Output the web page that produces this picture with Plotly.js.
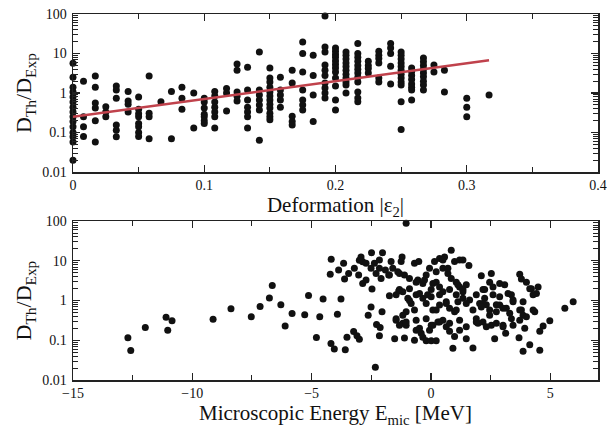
<!DOCTYPE html>
<html>
<head>
<meta charset="utf-8">
<script src="https://cdn.plot.ly/plotly-3.0.1.min.js"></script>
<style>html,body{margin:0;padding:0;background:#fff;}#chart{width:607px;height:428px;}</style>
</head>
<body>
<div id="chart"></div>
<script>
// Top panel: deformation |eps2| columns and the D_Th/D_Exp values read in each column
const deformationColumns = [0, 0.008, 0.017, 0.025, 0.033, 0.042, 0.05, 0.058, 0.067, 0.075, 0.083, 0.092, 0.1, 0.108, 0.117, 0.125, 0.133, 0.142, 0.15, 0.158, 0.167, 0.175, 0.183, 0.192, 0.2, 0.208, 0.217, 0.225, 0.233, 0.242, 0.25, 0.258, 0.267, 0.275, 0.283, 0.3, 0.317];
const ratioByDeformation = [
  [5.7, 2.5, 1.4, 1.07, 0.8, 0.59, 0.44, 0.33, 0.25, 0.19, 0.14, 0.10, 0.078, 0.058, 0.02],
  [2.0, 0.25, 0.14, 0.08],
  [2.7, 1.4, 0.56, 0.42, 0.2, 0.058],
  [0.45, 0.33, 0.25],
  [1.5, 1.2, 0.74, 0.155, 0.115, 0.078],
  [1.1, 0.63, 0.52, 0.33],
  [0.8, 0.39, 0.3, 0.25, 0.17, 0.14, 0.1, 0.08],
  [2.7, 0.31, 0.25, 0.07],
  [0.6],
  [1.1, 0.07],
  [1.4, 0.74, 0.39],
  [1.0, 0.13],
  [0.74, 0.59, 0.42, 0.29, 0.25, 0.2, 0.17],
  [1.1, 0.84, 0.59, 0.44, 0.33, 0.25, 0.13],
  [1.3, 1.0, 0.35],
  [5.4, 3.8, 1.07, 0.83, 0.63],
  [4.5, 1.2, 0.67, 0.44, 0.33, 0.25, 0.13],
  [11, 1.2, 0.89, 0.67, 0.5, 0.37, 0.064],
  [4.3, 2.4, 1.9, 1.4, 1.07, 0.84, 0.67, 0.52, 0.42, 0.31, 0.25, 0.21],
  [2.5, 1.2, 0.89, 0.67, 0.44],
  [3.8, 1.8, 0.26, 0.19, 0.155],
  [19.5, 10, 3.4, 1.2, 0.67, 0.5, 0.37],
  [9.1, 2.8, 0.89, 0.19],
  [89, 14.6, 11, 5.1, 3.8, 2.8, 1.8, 1.35, 1.0, 0.75],
  [13.8, 11.5, 9.5, 8, 6.5, 5.3, 4.3, 3.4, 2.4, 1.5, 0.67, 0.37],
  [11, 9, 7.3, 5.8, 4.7, 3.8, 3.0, 2.4, 1.9, 1.6, 1.0],
  [18, 10, 8, 6.4, 5, 4, 3.2, 2.5, 1.9, 1.07, 0.75, 0.6],
  [6.4, 5, 4.2, 3.2],
  [11.5, 9, 7.5, 5.8, 2.4, 1.9],
  [18, 13.8, 10, 4.8, 1.7],
  [11, 9, 7.3, 5.8, 4.7, 3.8, 3.0, 2.4, 1.9, 1.6, 0.6, 0.12],
  [4.3, 3.5, 2.8, 2.2, 1.7, 1.4, 1.2, 0.67],
  [7.7, 6.2, 5, 4, 3.2, 2.6, 2.0, 1.6, 1.2],
  [5.1, 3.4],
  [3.8, 1.07],
  [0.74, 0.44, 0.25],
  [0.89]
];
// Fit line (red) endpoints
const fitX = [0, 0.317];
const fitY = [0.25, 6.8];

// Bottom panel: microscopic energy (MeV) and ratio
const energyX = [
-12.70,-12.58,-11.97,-11.10,-11.03,-10.85,-9.13,-8.38,-7.53,-7.16,-6.77,-6.65,-6.29,-6.11,-5.82,-5.29,-5.13,
-4.52,-3.77,-4.66,-3.92,-4.80,-4.19,-4.05,-3.59,-3.52,-3.24,-3.10,-3.00,-4.18,-3.66,-4.22,-3.87,-3.45,-3.62,
-2.93,-2.86,-2.49,-2.03,-3.21,-3.03,-2.86,-2.72,-2.51,-2.37,-2.16,-2.30,-2.09,-2.47,-1.91,-1.77,-1.74,-2.51,
-2.63,-2.05,-2.28,-2.13,-2.16,-1.52,-2.33,-1.46,-1.35,
-1.04,-1.67,-1.60,-1.39,-1.21,-1.25,-1.11,-0.90,-0.69,-0.51,-0.55,-0.34,-0.20,-0.06,0.15,0.36,0.57,0.85,0.99,
1.20,1.34,1.59,0.50,0.71,0.85,1.06,1.20,1.34,1.48,2.11,0.22,0.36,0.50,0.01,-0.14,-0.34,-0.62,-0.90,-1.18,-1.46,
-1.32,-0.97,-0.83,-1.04,-1.18,-1.46,-1.18,-1.04,-0.69,-0.62,-0.41,-0.34,-0.20,0.01,0.22,-1.11,-0.69,-0.06,0.08,
0.29,0.50,0.64,0.78,0.99,1.20,1.48,0.92,1.76,-0.20,0.08,0.36,0.64,0.78,0.99,1.13,1.34,1.62,1.90,2.04,1.90,1.97,
2.25,2.32,
2.53,2.46,2.25,2.60,3.09,3.72,3.79,4.00,4.21,4.49,4.28,3.37,3.44,3.86,2.18,2.88,3.16,2.74,2.46,3.79,3.86,4.35,
2.18,2.53,3.02,3.37,3.93,4.98,4.70,4.56,3.13,2.67,3.69,4.14,3.86,4.56,5.61,5.96,
-3.00,-2.72,-2.16,-1.74,-1.32,-0.62,-0.27,0.08,0.22,0.50,0.71,1.13,-0.48,-0.90,-0.20,0.22,0.64,1.06,1.48,1.76,
2.11,2.46,2.74,3.02,3.30,2.88,3.23,3.44,3.72,4.00,4.28,4.42,4.14,2.18,2.60,2.88,1.34,1.06,0.78,0.36,0.01,-0.62,
-1.04,-1.32,-0.48,0.01,0.36,0.78,1.20,1.48,1.90,2.32,2.74,3.02,3.44,3.72
];
const energyY = [
0.116,0.055,0.21,0.38,0.18,0.31,0.34,0.62,0.39,0.71,1.16,2.4,0.78,0.23,0.47,0.44,1.35,
1.1,1.1,0.39,0.45,0.117,0.083,0.06,0.058,0.12,0.166,0.13,0.107,11,8.7,4.6,5.9,4.8,3.5,
12.6,9.5,16,16,6.5,4.4,2.7,3.3,6.5,8.7,10.5,4.8,3.6,1.95,5.9,4.4,1.32,0.69,
0.43,0.52,0.25,0.21,0.13,0.11,0.021,0.35,1.74,
88,9.6,6.5,5.3,12.6,9.6,4.4,3.6,8.7,9.6,3.3,2.7,4.4,6.5,9.6,11.5,12.6,18.6,9.6,
10.5,10.5,7.6,6.5,4.8,3.6,2.9,2.2,1.66,2.5,4.2,2.9,2.2,1.66,1.9,1.4,1.14,1.4,2.0,1.66,1.4,
1.9,1.14,0.85,0.52,0.43,0.32,0.27,0.24,0.58,0.18,0.15,0.12,0.097,0.097,0.097,0.115,0.1,0.18,0.24,
0.29,0.32,0.22,0.17,0.125,0.18,0.11,0.063,0.064,0.35,0.58,0.77,0.94,0.64,0.52,0.94,1.14,1.03,1.4,0.85,0.35,0.27,
1.14,0.78,
4.8,2.9,1.9,1.4,2.5,4.6,3.5,2.9,2.0,2.2,1.4,1.4,0.94,0.94,0.85,0.77,0.64,0.52,0.43,0.58,0.43,0.52,
0.29,0.24,0.24,0.35,0.2,0.31,0.23,0.17,0.15,0.11,0.116,0.077,0.053,0.056,0.64,0.94,
10.4,8.7,6.5,4.4,4.8,2.9,3.3,2.7,5.3,10.5,6.5,2.5,1.5,1.0,0.85,0.58,0.85,0.58,0.85,0.58,
0.69,0.58,0.78,0.64,0.48,1.24,1.5,1.03,0.58,0.39,0.58,1.5,2.0,1.9,2.2,2.7,1.9,1.4,1.9,1.4,1.24,0.32,
0.29,0.24,0.2,0.24,0.29,0.27,0.32,0.22,0.29,0.22,0.27,0.22,0.24,0.32
];

const yTickVals = [0.01, 0.1, 1, 10, 100];
const yTickText = ["0.01", "0.1", "1", "10", "100"];
const yMinorVals = [0.02,0.03,0.04,0.05,0.06,0.07,0.08,0.09,0.2,0.3,0.4,0.5,0.6,0.7,0.8,0.9,2,3,4,5,6,7,8,9,20,30,40,50,60,70,80,90];
const topXTicks = [0, 0.1, 0.2, 0.3, 0.4];
const bottomXTicks = [-15, -10, -5, 0, 5];

const topX = [], topY = [];
deformationColumns.forEach((x, i) => {
  ratioByDeformation[i].forEach(v => { topX.push(x); topY.push(v); });
});

const FONT = "'Liberation Serif', 'Times New Roman', Times, serif";
const marker = {color: '#111', size: 7};
const INK = '#222';

const traces = [
  {x: topX, y: topY, type: 'scatter', mode: 'markers', marker: marker, xaxis: 'x', yaxis: 'y', cliponaxis: false, showlegend: false},
  {x: fitX, y: fitY, type: 'scatter', mode: 'lines', line: {color: '#c0424c', width: 2.5}, xaxis: 'x', yaxis: 'y', showlegend: false},
  {x: energyX, y: energyY, type: 'scatter', mode: 'markers', marker: marker, xaxis: 'x2', yaxis: 'y2', cliponaxis: false, showlegend: false},
  {x: [], y: [], type: 'scatter', mode: 'markers', xaxis: 'x', yaxis: 'y3', showlegend: false},
  {x: [], y: [], type: 'scatter', mode: 'markers', xaxis: 'x', yaxis: 'y4', showlegend: false},
  {x: [], y: [], type: 'scatter', mode: 'markers', xaxis: 'x2', yaxis: 'y5', showlegend: false},
  {x: [], y: [], type: 'scatter', mode: 'markers', xaxis: 'x2', yaxis: 'y6', showlegend: false}
];

const axisCommon = {
  showline: true, linecolor: INK, linewidth: 1.5, mirror: 'ticks',
  ticks: 'inside', ticklen: 7, tickwidth: 1.2, tickcolor: INK,
  showgrid: false, zeroline: false,
  tickfont: {family: FONT, size: 14, color: '#111'}
};
const yAxis = (domain, anchor) => Object.assign({}, axisCommon, {
  type: 'log', range: [-2, 2], domain: domain, anchor: anchor,
  tickvals: yTickVals, ticktext: yTickText, ticklabelstandoff: 2,
  title: {text: 'D<sub>Th</sub>/D<sub>Exp</sub>', font: {family: FONT, size: 22, color: '#111'}, standoff: 4}
});
const minorY = (over, anchor, side) => ({
  overlaying: over, anchor: anchor, side: side, type: 'log', range: [-2, 2],
  tickvals: yMinorVals, showticklabels: false, ticks: 'inside', ticklen: 5, tickwidth: 1,
  tickcolor: INK, showline: false, showgrid: false, zeroline: false
});

const layout = {
  width: 607, height: 428,
  margin: {l: 73, r: 9, t: 14, b: 48},
  paper_bgcolor: '#fff', plot_bgcolor: '#fff',
  font: {family: FONT, color: '#111'},
  xaxis: Object.assign({}, axisCommon, {
    range: [0, 0.4], domain: [0, 1], anchor: 'y',
    tickvals: topXTicks,
    minor: {ticks: 'inside', ticklen: 5, tickwidth: 1, tickcolor: INK, dtick: 0.05, showgrid: false},
    title: {text: 'Deformation |ε<sub>2</sub>|', font: {family: FONT, size: 21, color: '#111'}, standoff: 3}
  }),
  yaxis: yAxis([0.568, 1], 'x'),
  xaxis2: Object.assign({}, axisCommon, {
    range: [-15, 7], domain: [0, 1], anchor: 'y2',
    tickvals: bottomXTicks,
    minor: {ticks: 'inside', ticklen: 5, tickwidth: 1, tickcolor: INK, dtick: 2.5, showgrid: false},
    title: {text: 'Microscopic Energy E<sub>mic</sub> [MeV]', font: {family: FONT, size: 21, color: '#111'}, standoff: 3}
  }),
  yaxis2: yAxis([0, 0.434], 'x2'),
  yaxis3: minorY('y', 'x', 'left'),
  yaxis4: minorY('y', 'x', 'right'),
  yaxis5: minorY('y2', 'x2', 'left'),
  yaxis6: minorY('y2', 'x2', 'right')
};

Plotly.newPlot('chart', traces, layout, {staticPlot: true, displayModeBar: false});
</script>
</body>
</html>
